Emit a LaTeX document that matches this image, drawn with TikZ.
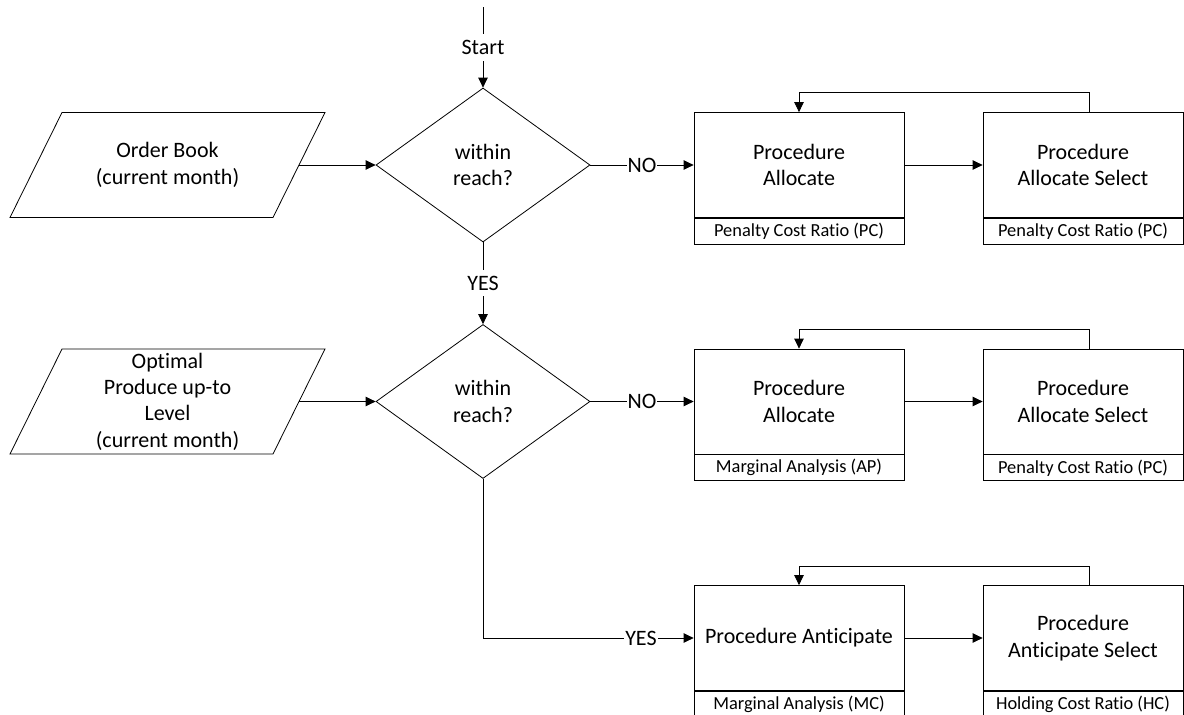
\documentclass[tikz,border=0pt]{standalone}
\usepackage{fontspec}
\setmainfont{Carlito}[Ligatures=NoCommon]
\usetikzlibrary{arrows.meta,shapes.geometric,calc}
\begin{document}
\begin{tikzpicture}[x=1pt,y=-1pt,
  every node/.style={font=\fontsize{22}{26.3}\selectfont},
  line/.style={draw=black,line width=0.8pt},
  flow/.style={line,-{Triangle[length=10pt,width=9.5pt]}},
  decision/.style={diamond,draw,line width=0.8pt,minimum width=214pt,minimum height=154pt,
                   inner sep=0pt,aspect=1.39,align=center},
  proc/.style={rectangle,draw,line width=0.8pt,minimum height=105pt,align=center,inner sep=0pt},
  note/.style={rectangle,draw,line width=0.8pt,minimum height=26pt,inner sep=0pt,anchor=north,
               font=\fontsize{18.4}{21}\selectfont},
  lbl/.style={fill=white,inner xsep=1pt,inner ysep=6pt},
  intext/.style={align=center,inner sep=0pt}
]
\useasboundingbox (0,0) rectangle (1184,715);

% ---------- inputs (parallelograms) ----------
\node[intext] (ob) at (167.5,165) {Order Book\\(current month)};
\draw[line] ($(ob.center)+(-105.5,-52.5)$) -- ($(ob.center)+(157.5,-52.5)$)
  -- ($(ob.center)+(105.5,52.5)$) -- ($(ob.center)+(-157.5,52.5)$) -- cycle;
\coordinate (obR) at ($(ob.center)+(131.5,0)$);

\node[intext] (op) at (167.5,401.5) {Optimal\\Produce up-to\\Level\\(current month)};
\draw[line] ($(op.center)+(-105.5,-52.5)$) -- ($(op.center)+(157.5,-52.5)$)
  -- ($(op.center)+(105.5,52.5)$) -- ($(op.center)+(-157.5,52.5)$) -- cycle;
\coordinate (opR) at ($(op.center)+(131.5,0)$);

% ---------- decisions ----------
\node[decision] (d1) at (483,165) {within\\reach?};
\node[decision] (d2) at (483,401.5) {within\\reach?};
\coordinate (top) at (483,7);

% ---------- procedure boxes ----------
\node[proc,minimum width=210pt] (a1) at (799,165) {Procedure\\Allocate};
\node[note,minimum width=210pt] (a1n) at (a1.south) {Penalty Cost Ratio (PC)};
\node[proc,minimum width=200pt] (b1) at (1083,165) {Procedure\\Allocate Select};
\node[note,minimum width=200pt] (b1n) at (b1.south) {Penalty Cost Ratio (PC)};

\node[proc,minimum width=210pt] (a2) at (799,401.5) {Procedure\\Allocate};
\node[note,minimum width=210pt] (a2n) at (a2.south) {Marginal Analysis (AP)};
\node[proc,minimum width=200pt] (b2) at (1083,401.5) {Procedure\\Allocate Select};
\node[note,minimum width=200pt] (b2n) at (b2.south) {Penalty Cost Ratio (PC)};

\node[proc,minimum width=210pt] (a3) at (799,638) {Procedure Anticipate};
\node[note,minimum width=210pt] (a3n) at (a3.south) {Marginal Analysis (MC)};
\node[proc,minimum width=200pt] (b3) at (1083,638) {Procedure\\Anticipate Select};
\node[note,minimum width=200pt] (b3n) at (b3.south) {Holding Cost Ratio (HC)};

% ---------- connectors ----------
\draw[flow] (top) -- (d1.north) node[lbl,midway] {Start};
\draw[flow] (obR) -- (d1.west);
\draw[flow] (d1.east) -- (a1.west) node[lbl,midway] {NO};
\draw[flow] (d1.south) -- (d2.north) node[lbl,midway] {YES};
\draw[flow] (opR) -- (d2.west);
\draw[flow] (d2.east) -- (a2.west) node[lbl,midway] {NO};
\draw[flow] (d2.south) |- (a3.west) node[lbl,pos=0.875] {YES};

\draw[flow] (a1.east) -- (b1.west);
\draw[flow] (a2.east) -- (b2.west);
\draw[flow] (a3.east) -- (b3.west);

\draw[flow] ([xshift=6pt]b1.north) -- ++(0,-20) -| (a1.north);
\draw[flow] ([xshift=6pt]b2.north) -- ++(0,-19) -| (a2.north);
\draw[flow] ([xshift=6pt]b3.north) -- ++(0,-19) -| (a3.north);
\end{tikzpicture}
\end{document}
